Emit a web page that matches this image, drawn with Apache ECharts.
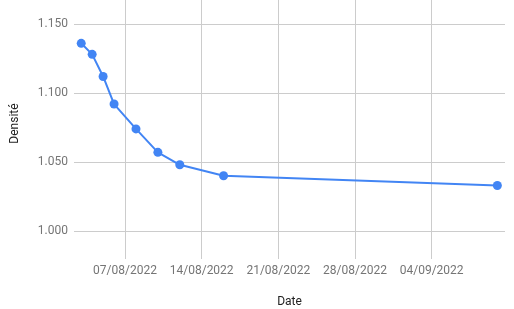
<!DOCTYPE html>
<html><head><meta charset="utf-8">
<script src="https://cdn.jsdelivr.net/npm/echarts@6/dist/echarts.min.js"></script>
<style>html,body{margin:0;padding:0;background:#fff}#c{width:514px;height:309px}</style>
</head><body><div id="c"></div>
<script>
const dates = ['2022-08-03','2022-08-04','2022-08-05','2022-08-06','2022-08-08','2022-08-10','2022-08-12','2022-08-16','2022-09-10'];
const densite = [1.136,1.128,1.112,1.092,1.074,1.057,1.048,1.040,1.033];
const xTicks = ['2022-08-07','2022-08-14','2022-08-21','2022-08-28','2022-09-04'];
const yTicks = [1.000,1.050,1.100,1.150];

const ts = s => { const p = s.split('-').map(Number); return Date.UTC(p[0], p[1]-1, p[2]); };
const DAY = 86400000;
const xTickTs = xTicks.map(ts);
const pad = n => (n < 10 ? '0' : '') + n;
const fmtDate = v => { const d = new Date(v); return pad(d.getUTCDate()) + '/' + pad(d.getUTCMonth()+1) + '/' + d.getUTCFullYear(); };

const chart = echarts.init(document.getElementById('c'), null, {renderer:'canvas'});
chart.setOption({
  animation: false,
  grid: {left: 74, right: 9, top: 0, bottom: 50, containLabel: false, outerBoundsMode: 'none'},
  xAxis: {
    type: 'value',
    min: ts(dates[0]) - 0.66*DAY,
    max: ts(dates[dates.length-1]) + 0.7*DAY,
    name: 'Date', nameLocation: 'middle', nameGap: 37,
    nameTextStyle: {color: '#222', fontFamily: 'Roboto', fontSize: 12},
    axisLine: {show: false},
    axisTick: {show: false, customValues: xTickTs},
    axisLabel: {customValues: xTickTs, formatter: v => fmtDate(v), color: '#757575', fontFamily: 'Roboto', fontSize: 12, margin: 6, showMinLabel: true, showMaxLabel: true},
    splitLine: {show: true, lineStyle: {color: '#cccccc', width: 1}}
  },
  yAxis: {
    type: 'value',
    min: 0.9797, max: 1.1674,
    name: 'Densité', nameLocation: 'middle', nameGap: 53, nameRotate: 90,
    nameTextStyle: {color: '#222', fontFamily: 'Roboto', fontSize: 12, padding: [0, 0, 0, 12]},
    axisLine: {show: false},
    axisTick: {show: false, customValues: yTicks},
    axisLabel: {customValues: yTicks, formatter: v => v.toFixed(3), color: '#757575', fontFamily: 'Roboto', fontSize: 12, margin: 6},
    splitLine: {show: true, lineStyle: {color: '#cccccc', width: 1}}
  },
  series: [{
    type: 'line',
    data: dates.map((d, i) => [ts(d), densite[i]]),
    symbol: 'circle', symbolSize: 9,
    lineStyle: {color: '#4285f4', width: 2},
    itemStyle: {color: '#4285f4'}
  }]
});
</script></body></html>
